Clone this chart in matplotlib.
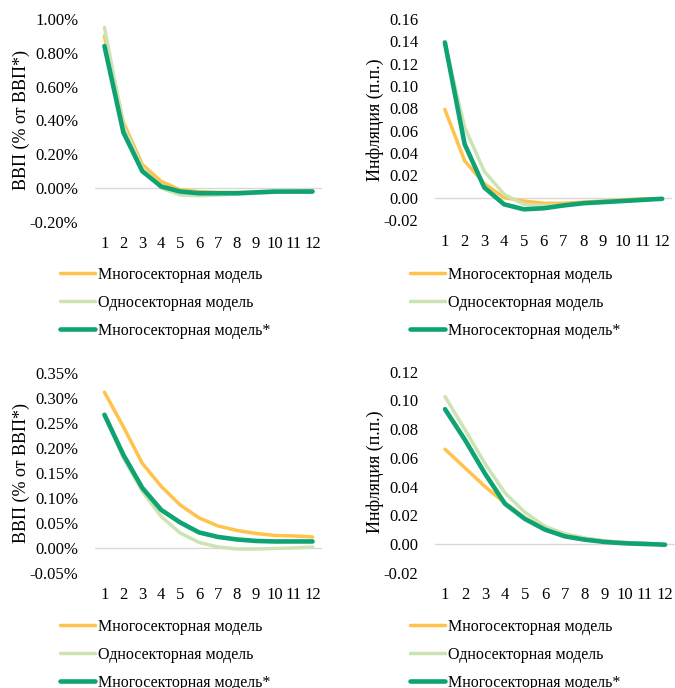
import numpy as np
import matplotlib
matplotlib.use('Agg')
import matplotlib.pyplot as plt
from matplotlib.ticker import FuncFormatter

plt.rcParams['font.family'] = ['Liberation Serif', 'DejaVu Serif']

periods = list(range(1, 13))
names = ['Многосекторная модель', 'Односекторная модель', 'Многосекторная модель*']
colors = ['#FFC24B', '#CCE4B3', '#0FA373']
widths = [2.5, 2.5, 3.3]

# top row: GDP (% of GDP*) and inflation (p.p.)
gdp_top_multi = [0.90, 0.39, 0.14, 0.04, -0.01, -0.02, -0.025, -0.025, -0.025, -0.02, -0.02, -0.015]
gdp_top_one = [0.95, 0.37, 0.12, 0.00, -0.04, -0.045, -0.04, -0.035, -0.03, -0.025, -0.02, -0.02]
gdp_top_star = [0.84, 0.33, 0.10, 0.01, -0.02, -0.03, -0.03, -0.03, -0.025, -0.02, -0.02, -0.02]

inf_top_multi = [0.079, 0.033, 0.0125, 0.0, -0.003, -0.005, -0.005, -0.004, -0.003, -0.002, -0.001, -0.001]
inf_top_one = [0.138, 0.063, 0.0234, 0.003, -0.006, -0.007, -0.007, -0.005, -0.004, -0.003, -0.002, -0.001]
inf_top_star = [0.139, 0.048, 0.009, -0.006, -0.0104, -0.0095, -0.007, -0.005, -0.004, -0.003, -0.002, -0.001]

# bottom row
gdp_bot_multi = [0.311, 0.242, 0.169, 0.123, 0.086, 0.060, 0.044, 0.035, 0.029, 0.025, 0.024, 0.022]
gdp_bot_one = [0.266, 0.180, 0.113, 0.063, 0.030, 0.011, 0.002, -0.002, -0.002, -0.001, 0.000, 0.002]
gdp_bot_star = [0.266, 0.186, 0.120, 0.076, 0.051, 0.031, 0.022, 0.017, 0.014, 0.013, 0.013, 0.013]

inf_bot_multi = [0.066, 0.053, 0.040, 0.0285, 0.018, 0.011, 0.007, 0.004, 0.002, 0.001, 0.0005, -0.0005]
inf_bot_one = [0.1027, 0.0795, 0.056, 0.0355, 0.022, 0.0123, 0.007, 0.004, 0.002, 0.001, 0.0005, -0.0005]
inf_bot_star = [0.0939, 0.0725, 0.049, 0.028, 0.0174, 0.010, 0.0053, 0.003, 0.0014, 0.0005, 0.0, -0.0005]

W, H = 675, 688
fig = plt.figure(figsize=(W / 100, H / 100), dpi=100)


def px_axes(x0, x1, y0, y1):
    return fig.add_axes([x0 / W, 1 - y1 / H, (x1 - x0) / W, (y1 - y0) / H])


def panel(ax, series, ylim, step, fmt, ylabel):
    for s, c, lw in zip(series, colors, widths):
        ax.plot(periods, s, color=c, lw=lw, solid_capstyle='round', solid_joinstyle='round')
    ax.axhline(0, color='#D9D9D9', lw=1, zorder=0)
    ax.set_xlim(0.5, 12.5)
    ax.set_ylim(*ylim)
    ax.set_yticks(np.arange(ylim[0], ylim[1] + step / 2, step))
    ax.yaxis.set_major_formatter(FuncFormatter(fmt))
    ax.set_xticks(periods)
    for sp in ax.spines.values():
        sp.set_visible(False)
    ax.tick_params(length=0, labelsize=12, pad=10)
    ax.tick_params(axis='y', pad=12)
    ax.set_ylabel(ylabel, fontsize=13, labelpad=0)


pct = lambda v, p: f'{v:.2f}%'
dec = lambda v, p: f'{v:.2f}'

ax1 = px_axes(95, 322, 19, 222)
panel(ax1, [gdp_top_multi, gdp_top_one, gdp_top_star], (-0.2, 1.0), 0.2, pct, 'ВВП (% от ВВП*)')
ax2 = px_axes(435, 672, 19, 220)
panel(ax2, [inf_top_multi, inf_top_one, inf_top_star], (-0.02, 0.16), 0.02, dec, 'Инфляция (п.п.)')
ax3 = px_axes(95, 322, 372.7, 573)
panel(ax3, [gdp_bot_multi, gdp_bot_one, gdp_bot_star], (-0.05, 0.35), 0.05, pct, 'ВВП (% от ВВП*)')
ax4 = px_axes(435, 675, 371.7, 572.7)
panel(ax4, [inf_bot_multi, inf_bot_one, inf_bot_star], (-0.02, 0.12), 0.02, dec, 'Инфляция (п.п.)')

for ax, (lx, ly) in [(ax1, (60, 267)), (ax2, (410, 267)), (ax3, (60, 619)), (ax4, (410, 619))]:
    ax.legend(ax.lines[:3], names, loc='upper left', bbox_to_anchor=(lx / W, 1 - ly / H),
              bbox_transform=fig.transFigure, frameon=False, borderaxespad=0, borderpad=0,
              fontsize=11.5, handlelength=2.2, handletextpad=0.15, labelspacing=0.75)

fig.savefig('out.png', dpi=100)
